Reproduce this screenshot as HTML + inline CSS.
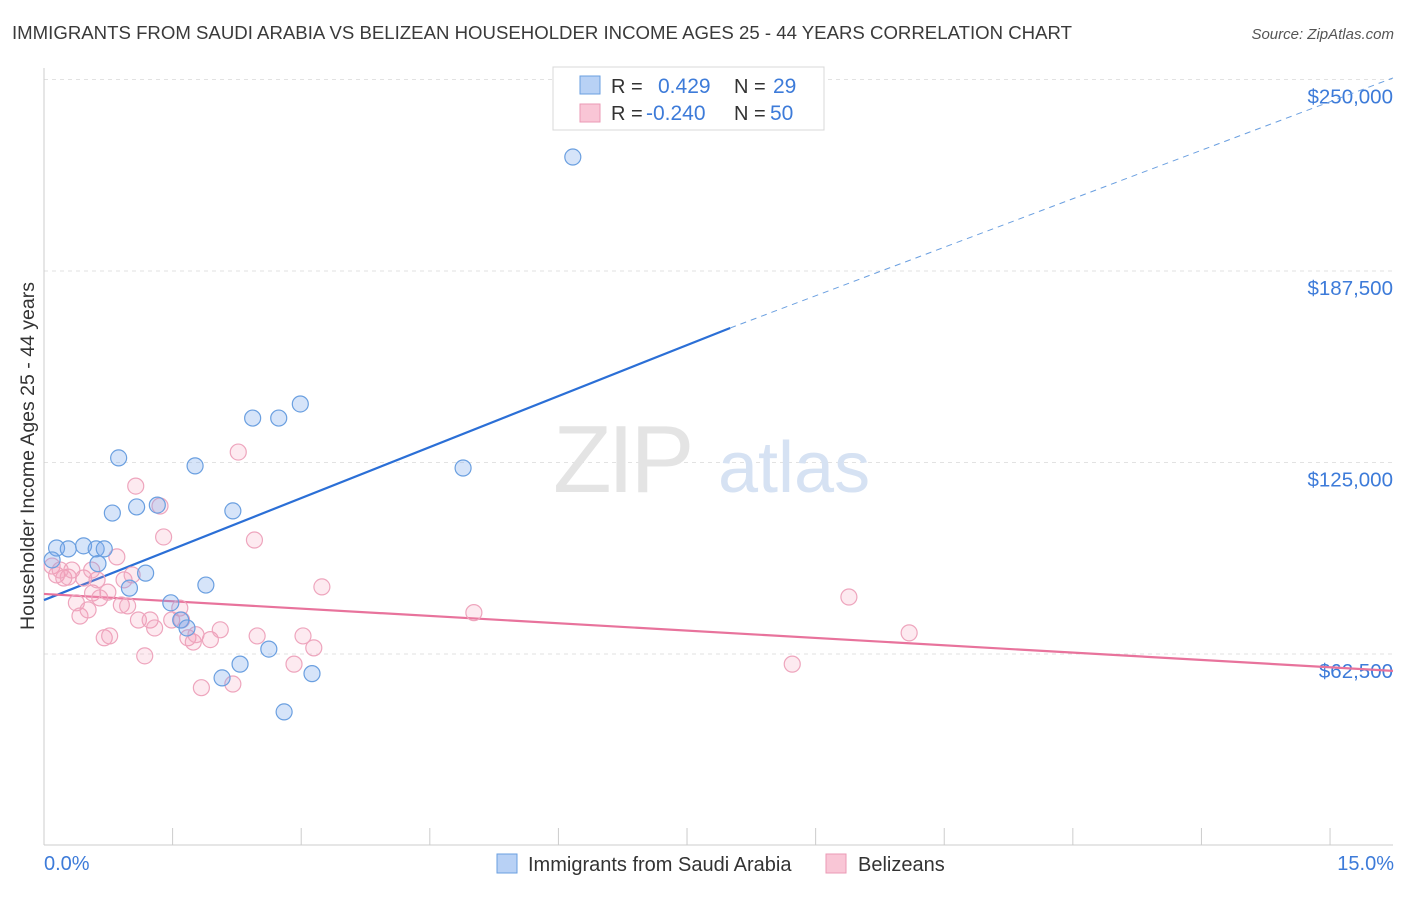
<!DOCTYPE html>
<html><head><meta charset="utf-8"><style>
body{margin:0;background:#fff;font-family:"Liberation Sans",sans-serif}
svg text{font-family:"Liberation Sans",sans-serif}
</style></head><body>
<svg id="chart" width="1406" height="892" viewBox="0 0 1406 892" xmlns="http://www.w3.org/2000/svg">
<text x="12" y="39" font-size="18" fill="#3a3a3a" textLength="1060" lengthAdjust="spacingAndGlyphs">IMMIGRANTS FROM SAUDI ARABIA VS BELIZEAN HOUSEHOLDER INCOME AGES 25 - 44 YEARS CORRELATION CHART</text>
<text x="1394" y="39" font-size="15" fill="#555" text-anchor="end" font-style="italic">Source: ZipAtlas.com</text>
<g id="grid"></g>
<text x="553" y="492" font-size="96" fill="#e4e4e4" font-family="Liberation Serif" letter-spacing="-4">ZIP</text>
<text x="718" y="492" font-size="72" fill="#d6e2f3">atlas</text>
<g id="lines"></g>
<g id="points"></g>
<text transform="translate(34,456) rotate(-90)" font-size="19.5" fill="#333" text-anchor="middle">Householder Income Ages 25 - 44 years</text>
<text x="44" y="870" font-size="20" fill="#3d7bd9">0.0%</text>
<text x="1394" y="870" font-size="20" fill="#3d7bd9" text-anchor="end">15.0%</text>
<g>
<rect x="553" y="67" width="271" height="63" fill="#fff" stroke="#d8d8d8"/>
<rect x="580" y="76" width="20" height="18" fill="#b8d1f5" stroke="#6a9fe0"/>
<rect x="580" y="104" width="20" height="18" fill="#f9c6d6" stroke="#eb9ab5"/>
<text x="611" y="93" font-size="20" fill="#333">R =</text>
<text x="658" y="93" font-size="21" fill="#3d7bd9">0.429</text>
<text x="734" y="93" font-size="20" fill="#333">N =</text>
<text x="773" y="93" font-size="21" fill="#3d7bd9">29</text>
<text x="611" y="120" font-size="20" fill="#333">R =</text>
<text x="646" y="120" font-size="21" fill="#3d7bd9">-0.240</text>
<text x="734" y="120" font-size="20" fill="#333">N =</text>
<text x="770" y="120" font-size="21" fill="#3d7bd9">50</text>
</g>
<g>
<rect x="497" y="854" width="20" height="19" fill="#b8d1f5" stroke="#6a9fe0"/>
<text x="528" y="871" font-size="20" fill="#333">Immigrants from Saudi Arabia</text>
<rect x="826" y="854" width="20" height="19" fill="#f9c6d6" stroke="#eb9ab5"/>
<text x="858" y="871" font-size="20" fill="#333">Belizeans</text>
</g>
</svg>
<script>
const yTicks=[62500,125000,187500,250000];
const yTickLabels=["$62,500","$125,000","$187,500","$250,000"];
const blueX=[0.14,0.27,0.44,0.58,0.67,0.60,0.76,0.83,1.03,1.13,1.26,0.95,1.41,1.52,1.59,1.68,1.80,1.98,2.10,2.18,2.32,2.61,2.50,2.67,2.85,2.98,4.66,5.88,0.09];
const blueY=[97.1,96.8,97.8,96.8,96.8,92.0,108.5,126.5,110.5,88.9,111.1,84.0,79.2,73.6,71.0,123.9,85.0,54.7,109.2,59.2,139.5,139.5,64.1,43.6,144.1,56.1,123.2,224.7,93.2];
const pinkX=[0.09,0.14,0.22,0.27,0.31,0.36,0.40,0.44,0.49,0.54,0.59,0.62,0.67,0.73,0.71,0.81,0.86,0.89,0.93,0.98,1.02,1.05,1.12,1.18,1.23,1.29,1.33,1.42,1.51,1.53,1.60,1.66,1.75,1.85,1.96,2.10,2.16,2.34,2.37,2.78,2.88,3.00,3.09,4.78,8.32,8.95,9.62,0.53,0.18,1.69];
const pinkY=[91.2,88.3,87.3,87.6,89.9,79.2,74.9,87.3,76.9,82.4,86.7,80.8,67.8,68.4,82.7,94.2,78.5,86.7,78.2,88.3,117.3,73.6,61.9,73.6,71.0,110.8,100.7,73.6,77.5,73.6,67.8,66.4,51.5,67.2,70.4,52.7,128.4,99.7,68.4,59.2,68.4,64.5,84.4,76.0,59.2,81.1,69.4,89.9,89.9,68.8];
const blueTrend=[[0,80.1],[7.63,168.9],[15,250.5]];
const pinkTrend=[[0,82.1],[15,57.0]];
const NS="http://www.w3.org/2000/svg";
const X0=44,X1=1393,Y0=845.5,PXK=191.5/62.5;
const sx=v=>X0+v/15*(X1-X0);
const sy=k=>Y0-k*PXK;
function mk(tag,attrs,parent){const e=document.createElementNS(NS,tag);for(const k in attrs)e.setAttribute(k,attrs[k]);parent.appendChild(e);return e;}
const grid=document.getElementById('grid');
yTicks.forEach((t,i)=>{
  const y=sy(t/1000);
  const l=mk('line',{x1:X0,x2:X1,y1:y,y2:y,stroke:'#e2e2e2','stroke-dasharray':'4,4'},grid);
  
  
  const tx=mk('text',{x:1393,y:y+24,'font-size':20.5,fill:'#3d7bd9','text-anchor':'end'},grid);
  tx.textContent=yTickLabels[i];
  
  
});
const ax=mk('line',{x1:X0,x2:X1,y1:845,y2:845,stroke:'#ccc'},grid);


const yax=mk('line',{x1:X0,x2:X0,y1:68,y2:845,stroke:'#ccc'},grid);


for(let i=0;i<=10;i++){
  const x=sx(i*1.43);
  const t=mk('line',{x1:x,x2:x,y1:828,y2:845,stroke:'#ccc'},grid);
  
  
}
const lines=document.getElementById('lines');
const b1=mk('line',{x1:sx(blueTrend[0][0]),y1:sy(blueTrend[0][1]),x2:sx(blueTrend[1][0]),y2:sy(blueTrend[1][1]),stroke:'#2b6fd6','stroke-width':2.2},lines);


const b2=mk('line',{x1:sx(blueTrend[1][0]),y1:sy(blueTrend[1][1]),x2:sx(blueTrend[2][0]),y2:sy(blueTrend[2][1]),stroke:'#6a9fe0','stroke-width':1,'stroke-dasharray':'6,5'},lines);


const p1=mk('line',{x1:sx(pinkTrend[0][0]),y1:sy(pinkTrend[0][1]),x2:sx(pinkTrend[1][0]),y2:sy(pinkTrend[1][1]),stroke:'#e8739c','stroke-width':2.2},lines);


const pts=document.getElementById('points');
pinkX.forEach((v,i)=>{
  const c=mk('circle',{cx:sx(v),cy:sy(pinkY[i]),r:8,fill:'rgba(243,150,180,0.2)',stroke:'#eea5bd','stroke-width':1.2},pts);
  
  
});
blueX.forEach((v,i)=>{
  const c=mk('circle',{cx:sx(v),cy:sy(blueY[i]),r:8,fill:'rgba(120,165,235,0.3)',stroke:'#6a9fe0','stroke-width':1.2},pts);
  
  
});
</script>
</body></html>
